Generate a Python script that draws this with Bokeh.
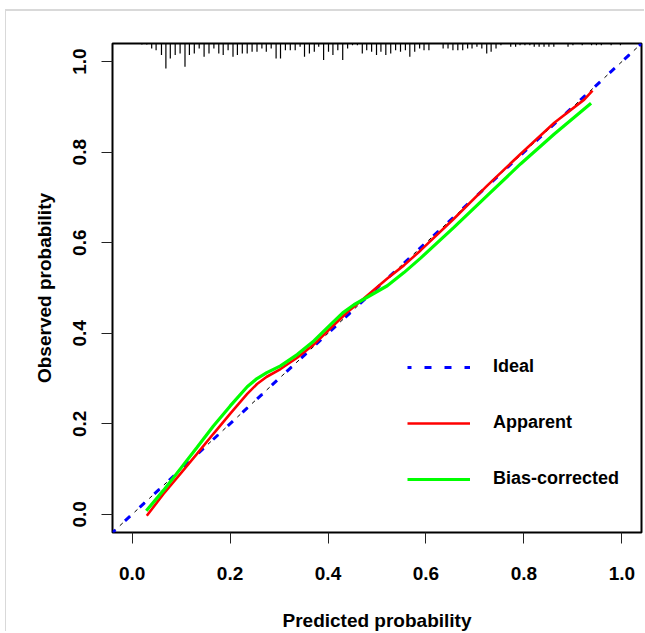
import math
from bokeh.plotting import figure
from bokeh.models import Range1d, Legend, LegendItem, FixedTicker
from bokeh.embed import file_html
from bokeh.resources import INLINE

# ---- data ----
ticks = [0.0, 0.2, 0.4, 0.6, 0.8, 1.0]
tick_labels = ["0.0", "0.2", "0.4", "0.6", "0.8", "1.0"]
lims = [-0.04, 1.04]

apparent_x = [0.030, 0.064, 0.098, 0.132, 0.166, 0.200, 0.235, 0.255, 0.275, 0.303,
              0.337, 0.371, 0.405, 0.440, 0.473, 0.521, 0.555, 0.589, 0.657, 0.725,
              0.793, 0.862, 0.923, 0.940]
apparent_y = [-0.003, 0.045, 0.089, 0.133, 0.178, 0.222, 0.266, 0.288, 0.304, 0.321,
              0.346, 0.375, 0.411, 0.447, 0.477, 0.521, 0.550, 0.583, 0.653, 0.726,
              0.796, 0.865, 0.916, 0.936]

bias_x = [0.029, 0.064, 0.098, 0.132, 0.166, 0.200, 0.235, 0.255, 0.275, 0.303,
          0.337, 0.371, 0.405, 0.430, 0.453, 0.487, 0.521, 0.555, 0.589, 0.657,
          0.725, 0.793, 0.862, 0.937]
bias_y = [0.008, 0.053, 0.100, 0.147, 0.195, 0.239, 0.282, 0.300, 0.313, 0.328,
          0.353, 0.383, 0.419, 0.445, 0.463, 0.484, 0.505, 0.534, 0.566, 0.634,
          0.704, 0.774, 0.840, 0.908]

# distribution of predicted probabilities (rug at top), relative frequency
rug_x = [0.020, 0.030, 0.040, 0.049, 0.060, 0.069, 0.078, 0.088, 0.098, 0.108,
         0.117, 0.127, 0.137, 0.147, 0.157, 0.167, 0.177, 0.186, 0.196, 0.206,
         0.215, 0.225, 0.235, 0.245, 0.255, 0.265, 0.274, 0.284, 0.294, 0.303,
         0.313, 0.323, 0.333, 0.343, 0.352, 0.362, 0.372, 0.381, 0.391, 0.401,
         0.410, 0.420, 0.430, 0.440, 0.450, 0.460, 0.470, 0.479, 0.489, 0.499,
         0.508, 0.518, 0.528, 0.538, 0.548, 0.558, 0.567, 0.577, 0.587, 0.596,
         0.606, 0.635, 0.645, 0.655, 0.665, 0.675, 0.685, 0.694, 0.704, 0.714,
         0.724, 0.733, 0.743, 0.753, 0.773, 0.783, 0.792, 0.802, 0.812, 0.821,
         0.831, 0.841, 0.851, 0.861, 0.890, 0.900, 0.919, 0.938, 0.948, 0.958,
         0.978, 0.997]
rug_freq = [3, 3, 15, 20, 35, 75, 45, 35, 30, 70,
            35, 30, 15, 40, 30, 15, 30, 35, 20, 40,
            35, 30, 30, 25, 25, 15, 25, 15, 45, 45,
            20, 20, 20, 10, 40, 30, 25, 10, 50, 25,
            35, 20, 50, 15, 5, 5, 30, 20, 25, 35,
            25, 35, 30, 20, 25, 20, 40, 25, 15, 20,
            20, 15, 15, 20, 20, 20, 15, 15, 10, 15,
            30, 25, 15, 5, 10, 10, 5, 5, 5, 10,
            10, 10, 10, 10, 10, 5, 5, 5, 5, 5,
            5, 5]

# ---- figure ----
FONT = "Liberation Sans"
p = figure(width=639, height=622, output_backend="svg", toolbar_location=None,
           x_range=Range1d(*lims), y_range=Range1d(*lims),
           min_border_left=106, min_border_right=4, min_border_top=32,
           min_border_bottom=96)
p.margin = (9, 0, 0, 5)
p.styles = {"border-top": "2px solid #d9d9d9", "border-left": "1px solid #d9d9d9"}
p.grid.visible = False
p.outline_line_color = "black"
p.outline_line_width = 2
p.outline_line_alpha = 1

for ax in (p.xaxis[0], p.yaxis[0]):
    ax.ticker = FixedTicker(ticks=ticks)
    ax.major_label_overrides = {t: l for t, l in zip(ticks, tick_labels)}
    ax.axis_line_color = None
    ax.major_tick_in = 0
    ax.major_tick_out = 11
    ax.major_tick_line_color = "#222222"
    ax.major_tick_line_width = 1
    ax.minor_tick_line_color = None
    ax.major_label_text_font = FONT
    ax.major_label_text_font_style = "bold"
    ax.major_label_text_font_size = "19px"
    ax.major_label_text_color = "black"
    ax.axis_label_text_font = FONT
    ax.axis_label_text_font_style = "bold"
    ax.axis_label_text_font_size = "19px"
    ax.axis_label_text_color = "black"

p.xaxis.axis_label = "Predicted probability"
p.yaxis.axis_label = "Observed probability"
p.xaxis.major_label_standoff = 23
p.xaxis.axis_label_standoff = 27
p.yaxis.major_label_standoff = 15
p.yaxis.major_label_orientation = "vertical"
p.yaxis.axis_label_standoff = 16

# rug of predicted probabilities hanging from the top border
rug_max_len = 0.055
fmax = max(rug_freq)
rug_y1 = [lims[1] - rug_max_len * f / fmax for f in rug_freq]
p.segment(x0=rug_x, y0=[lims[1]] * len(rug_x), x1=rug_x, y1=rug_y1,
          line_color="black", line_width=1.2)

# ideal line (thin black dashed + thick blue dashed)
p.line(lims, lims, line_color="black", line_width=1, line_dash="4 6")
ideal = p.line(lims, lims, line_color="#0000FF", line_width=3, line_dash="7 13",
               line_dash_offset=3)

app = p.line(apparent_x, apparent_y, line_color="#FF0000", line_width=2.6)
bias = p.line(bias_x, bias_y, line_color="#00FF00", line_width=3.2)

legend = Legend(items=[LegendItem(label="Ideal", renderers=[ideal]),
                       LegendItem(label="Apparent", renderers=[app]),
                       LegendItem(label="Bias-corrected", renderers=[bias])],
                location=(295, 43), orientation="vertical",
                glyph_width=63, glyph_height=20, spacing=35, padding=0, margin=0,
                label_standoff=23, border_line_color=None,
                background_fill_alpha=0,
                label_text_font=FONT, label_text_font_style="bold",
                label_text_font_size="18px", label_text_color="black")
p.add_layout(legend, "center")

open("out.html", "w").write(file_html(p, INLINE))
